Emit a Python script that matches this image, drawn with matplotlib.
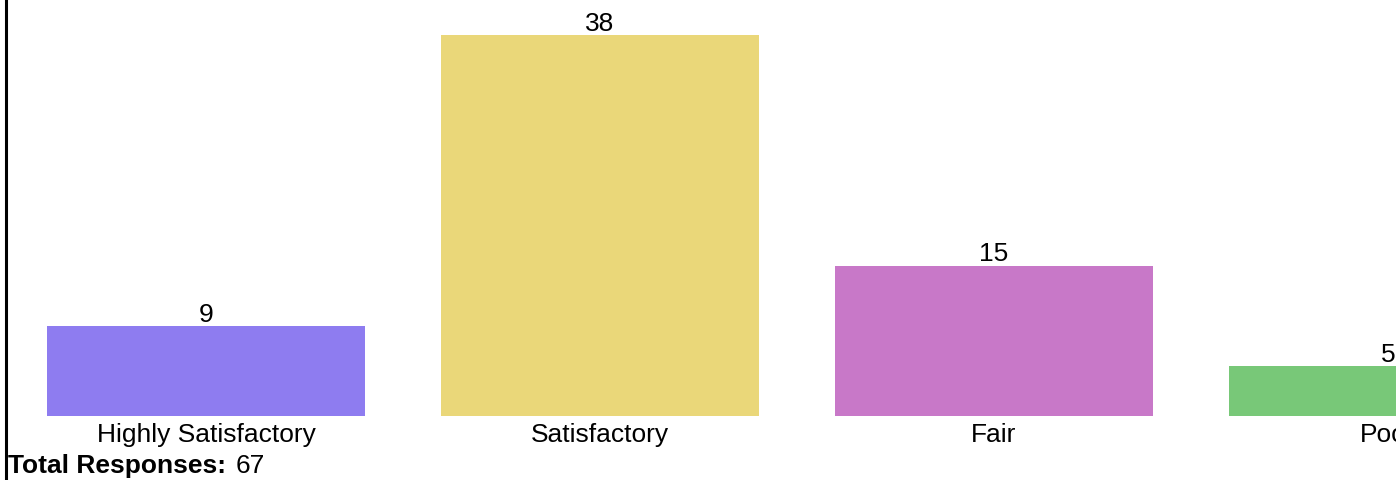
import matplotlib
matplotlib.use("Agg")
import matplotlib.pyplot as plt
from matplotlib.lines import Line2D

categories = ["Highly Satisfactory", "Satisfactory", "Fair", "Poor"]
counts = [9, 38, 15, 5]
colors = ["#8e7cf0", "#ead779", "#c878c8", "#78c878"]
total = 67

plt.rcParams['font.family'] = ['Liberation Sans', 'DejaVu Sans']

W, H = 1396, 481
FS = 19
fig = plt.figure(figsize=(W / 100, H / 100), dpi=100)
ax = fig.add_axes([6 / W, (H - 417) / H, (W - 6) / W, 417 / H])
x = list(range(len(categories)))
bars = ax.bar(x, counts, width=0.807, color=colors)
ax.set_xlim(-0.508, (W - 206) / 394)
ax.set_ylim(0, 41.6)
for rect, v in zip(bars, counts):
    ax.text(rect.get_x() + rect.get_width() / 2, v + 0.02, str(v),
            ha="center", va="bottom", fontsize=FS)
ax.set_xticks(x)
ax.set_xticklabels(categories, fontsize=FS)
ax.tick_params(axis="x", length=0, pad=4.5)
ax.set_yticks([])
for s in ax.spines.values():
    s.set_visible(False)

fig.add_artist(Line2D([5.5 / W, 5.5 / W], [0, 1], color="black", lw=2.2,
                      transform=fig.transFigure))
t1 = fig.text(8 / W, 3 / H, "Total Responses:", fontsize=FS, fontweight="bold",
              ha="left", va="bottom")
fig.canvas.draw()
bb = t1.get_window_extent()
fig.text(bb.x1 / W + 10 / W, 3 / H, str(total), fontsize=FS, ha="left", va="bottom")

fig.savefig("out.png", dpi=100)
